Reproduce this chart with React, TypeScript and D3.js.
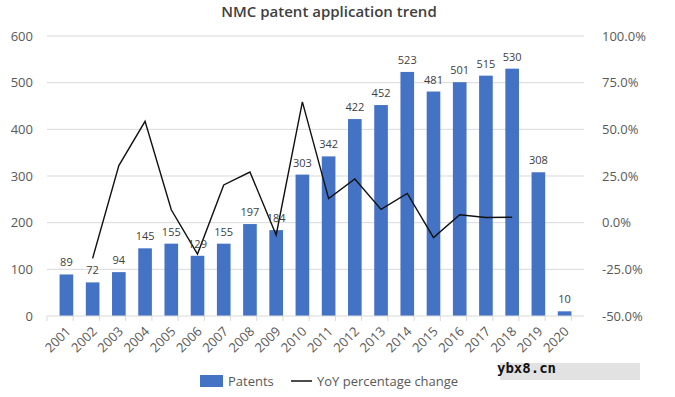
import React, { useEffect, useRef } from 'react';
import * as d3 from 'd3';

const years = ['2001', '2002', '2003', '2004', '2005', '2006', '2007', '2008', '2009', '2010',
  '2011', '2012', '2013', '2014', '2015', '2016', '2017', '2018', '2019', '2020'];
const patents = [89, 72, 94, 145, 155, 129, 155, 197, 184, 303, 342, 422, 452, 523, 481, 501, 515, 530, 308, 10];
// YoY % change (2002..2018)
const yoyYears = years.slice(1, 18);
const yoyValues = [-19.1, 30.6, 54.3, 6.9, -16.8, 20.2, 27.1, -6.6, 64.7, 12.9, 23.4, 7.1, 15.7, -8.0, 4.2, 2.8, 2.9];
const leftTicks = [0, 100, 200, 300, 400, 500, 600];
const rightTicks = [-50, -25, 0, 25, 50, 75, 100];

const FONT = '"Open Sans", "Noto Sans", sans-serif';

const App = () => {
  const svgRef = useRef<SVGSVGElement>(null);

  useEffect(() => {
    const svg = d3.select(svgRef.current);
    svg.selectAll('*').remove();

    const margin = { top: 36, right: 91, bottom: 81, left: 47 };
    const W = 675, H = 397;
    const width = W - margin.left - margin.right;
    const height = H - margin.top - margin.bottom;

    svg.append('rect').attr('width', W).attr('height', H).attr('fill', '#fff');

    // title
    svg.append('text')
      .attr('x', 329).attr('y', 17)
      .attr('text-anchor', 'middle')
      .style('font-family', FONT).style('font-size', '15px').style('font-weight', 600)
      .style('fill', '#404040')
      .text('NMC patent application trend');

    const g = svg.append('g').attr('transform', `translate(${margin.left},${margin.top})`);

    const x = d3.scaleBand().domain(years).range([0, width]).padding(0.48);
    const y = d3.scaleLinear().domain([0, 600]).range([height, 0]);
    const y2 = d3.scaleLinear().domain([-50, 100]).range([height, 0]);

    // gridlines
    g.selectAll('.grid')
      .data(leftTicks.slice(1))
      .enter().append('line')
      .attr('x1', 0).attr('x2', width)
      .attr('y1', d => y(d)).attr('y2', d => y(d))
      .attr('stroke', '#d9d9d9').attr('stroke-width', 1);

    // left axis labels
    g.selectAll('.ly')
      .data(leftTicks)
      .enter().append('text')
      .attr('x', -14).attr('y', d => y(d)).attr('dy', '0.35em')
      .attr('text-anchor', 'end')
      .style('font-family', FONT).style('font-size', '13px').style('fill', '#595959')
      .text(d => d);

    // right axis labels
    g.selectAll('.ry')
      .data(rightTicks)
      .enter().append('text')
      .attr('x', width + 18).attr('y', d => y2(d)).attr('dy', '0.35em')
      .attr('text-anchor', 'start')
      .style('font-family', FONT).style('font-size', '13px').style('fill', '#595959')
      .text(d => d.toFixed(1) + '%');

    // bars
    g.selectAll('.bar')
      .data(years)
      .enter().append('rect')
      .attr('x', d => x(d)!)
      .attr('width', x.bandwidth())
      .attr('y', (d, i) => y(patents[i]))
      .attr('height', (d, i) => height - y(patents[i]))
      .attr('fill', '#4472c4');

    // x axis line & ticks
    g.append('line')
      .attr('x1', 0).attr('x2', width).attr('y1', height).attr('y2', height)
      .attr('stroke', '#d9d9d9');
    const step = x.step();
    g.selectAll('.xt')
      .data(d3.range(years.length + 1))
      .enter().append('line')
      .attr('x1', i => i * step).attr('x2', i => i * step)
      .attr('y1', height).attr('y2', height + 5)
      .attr('stroke', '#d9d9d9');

    // x labels
    g.selectAll('.xl')
      .data(years)
      .enter().append('text')
      .attr('transform', d => `translate(${x(d)! + x.bandwidth() / 2 + 2},${height + 13}) rotate(-45)`)
      .attr('text-anchor', 'end')
      .attr('dy', '0.35em')
      .style('font-family', FONT).style('font-size', '13px').style('fill', '#595959')
      .text(d => d);

    // yoy line
    const line = d3.line<number>()
      .x((d, i) => x(yoyYears[i])! + x.bandwidth() / 2)
      .y(d => y2(d));
    g.append('path')
      .datum(yoyValues)
      .attr('d', line)
      .attr('fill', 'none')
      .attr('stroke', '#111')
      .attr('stroke-width', 1.4);

    // data labels
    g.selectAll('.dl')
      .data(years)
      .enter().append('text')
      .attr('x', d => x(d)! + x.bandwidth() / 2)
      .attr('y', (d, i) => y(patents[i]) - 8)
      .attr('text-anchor', 'middle')
      .style('font-family', FONT).style('font-size', '11px').style('fill', '#404040')
      .text((d, i) => patents[i]);

    // legend
    const lg = svg.append('g').attr('transform', 'translate(200,381)');
    lg.append('rect').attr('x', 0).attr('y', -6).attr('width', 23).attr('height', 12).attr('fill', '#4472c4');
    lg.append('text').attr('x', 28).attr('y', 0).attr('dy', '0.35em')
      .style('font-family', FONT).style('font-size', '13px').style('fill', '#595959')
      .text('Patents');
    lg.append('line').attr('x1', 91).attr('x2', 112).attr('y1', 0).attr('y2', 0)
      .attr('stroke', '#111').attr('stroke-width', 1.5);
    lg.append('text').attr('x', 117).attr('y', 0).attr('dy', '0.35em')
      .style('font-family', FONT).style('font-size', '13px').style('fill', '#595959')
      .text('YoY percentage change');

    // watermark
    svg.append('rect').attr('x', 500).attr('y', 363).attr('width', 140).attr('height', 17).attr('fill', '#e2e2e2');
    svg.append('text').attr('x', 497).attr('y', 373)
      .style('font-family', '"DejaVu Sans Mono", monospace').style('font-size', '14px')
      .style('font-weight', 'bold').style('fill', '#111')
      .text('ybx8.cn');
  }, []);

  return (
    <svg ref={svgRef} width={675} height={397} style={{ position: 'absolute', left: 0, top: 0 }} />
  );
};

export default App;
